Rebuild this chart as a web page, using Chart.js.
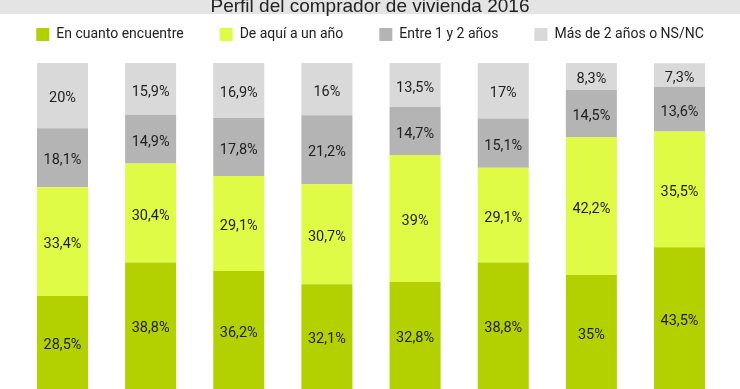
<!DOCTYPE html>
<html>
<head>
<meta charset="utf-8">
<script src="https://cdn.jsdelivr.net/npm/chart.js@4.4.1/dist/chart.umd.min.js"></script>
<style>
  html, body { margin: 0; padding: 0; background: #ffffff; }
  #wrap { width: 740px; height: 389px; position: relative; }
</style>
</head>
<body>
<div id="wrap"><canvas id="chart"></canvas></div>
<script>
const titleText = 'Perfil del comprador de vivienda 2016';
const categories = ['1', '2', '3', '4', '5', '6', '7', '8'];
const seriesNames = ['En cuanto encuentre', 'De aquí a un año', 'Entre 1 y 2 años', 'Más de 2 años o NS/NC'];
const enCuantoEncuentre = [28.5, 38.8, 36.2, 32.1, 32.8, 38.8, 35, 43.5];
const deAquiAUnAno = [33.4, 30.4, 29.1, 30.7, 39, 29.1, 42.2, 35.5];
const entre1y2Anos = [18.1, 14.9, 17.8, 21.2, 14.7, 15.1, 14.5, 13.6];
const masDe2Anos = [20, 15.9, 16.9, 16, 13.5, 17, 8.3, 7.3];
const seriesColors = ['#b3d100', '#e0fb46', '#b4b4b4', '#d9d9d9'];

const LABEL_FONT = "Roboto, 'Liberation Sans', sans-serif";
const SANS = "'Liberation Sans', Arial, sans-serif";

const bandPlugin = {
  id: 'titleBand',
  beforeDraw(chart) {
    const ctx = chart.ctx;
    ctx.save();
    ctx.fillStyle = '#e4e4e4';
    ctx.fillRect(0, 0, chart.width, 14);
    ctx.restore();
  }
};

const valueLabels = {
  id: 'valueLabels',
  afterDatasetsDraw(chart) {
    const ctx = chart.ctx;
    ctx.save();
    ctx.font = "14.5px " + LABEL_FONT;
    ctx.fillStyle = '#1e1e1e';
    ctx.textAlign = 'center';
    ctx.textBaseline = 'middle';
    chart.data.datasets.forEach((ds, i) => {
      const meta = chart.getDatasetMeta(i);
      meta.data.forEach((bar, j) => {
        const p = bar.getProps(['x', 'y', 'base'], true);
        const v = ds.data[j];
        const txt = String(v).replace('.', ',') + '%';
        ctx.fillText(txt, p.x, (p.y + p.base) / 2 + 3);
      });
    });
    ctx.restore();
  }
};

const datasets = [enCuantoEncuentre, deAquiAUnAno, entre1y2Anos, masDe2Anos].map((d, i) => ({
  label: seriesNames[i],
  data: d,
  backgroundColor: seriesColors[i],
  borderWidth: 0,
  barPercentage: 0.579,
  categoryPercentage: 1.0,
  stack: 's'
}));

new Chart(document.getElementById('chart'), {
  type: 'bar',
  data: { labels: categories, datasets },
  options: {
    responsive: true,
    maintainAspectRatio: false,
    animation: false,
    devicePixelRatio: 1,
    layout: { padding: { top: -8.5, left: 0, right: 0, bottom: 0 } },
    plugins: {
      title: {
        display: true,
        text: titleText,
        color: '#222222',
        font: { family: SANS, size: 19, weight: 'normal', lineHeight: 1.2 },
        padding: { top: 4.1, bottom: -26.9 }
      },
      legend: {
        display: true,
        position: 'top',
        labels: {
          boxWidth: 13,
          boxHeight: 13,
          padding: 36,
          color: '#222222',
          font: { family: LABEL_FONT, size: 14 }
        }
      },
      tooltip: { enabled: false }
    },
    scales: {
      x: {
        stacked: true,
        position: 'top',
        display: true,
        grid: { display: false },
        border: { display: false },
        ticks: { display: false },
        afterFit(scale) { scale.height = 11.5; }
      },
      y: {
        stacked: true,
        min: 0,
        max: 100,
        display: true,
        grid: { display: false },
        border: { display: false },
        ticks: { display: false },
        afterFit(scale) { scale.width = 18.4; }
      },
      yRight: {
        type: 'linear',
        position: 'right',
        display: true,
        grid: { display: false },
        border: { display: false },
        ticks: { display: false },
        afterFit(scale) { scale.width = 16.4; }
      }
    }
  },
  plugins: [bandPlugin, valueLabels]
});
</script>
</body>
</html>
